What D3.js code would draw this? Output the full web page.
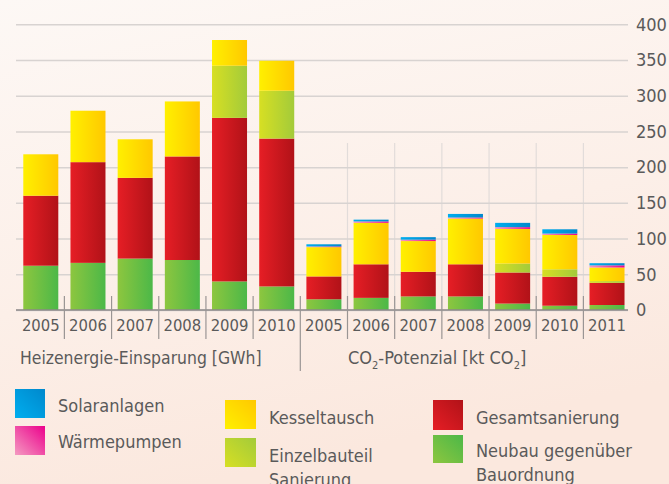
<!DOCTYPE html>
<html>
<head>
<meta charset="utf-8">
<script src="https://cdnjs.cloudflare.com/ajax/libs/d3/7.8.5/d3.min.js"></script>
<style>
  html, body { margin: 0; padding: 0; background: #fcefe8; }
  svg { display: block; }
  text { font-family: "DejaVu Sans Condensed", "DejaVu Sans", sans-serif; font-stretch: condensed; fill: #5a5a5a; }
</style>
</head>
<body>
<div class="viz"></div>
<script>
// years per group
const heatYears = ["2005", "2006", "2007", "2008", "2009", "2010"];
const co2Years = ["2005", "2006", "2007", "2008", "2009", "2010", "2011"];

// series, bottom to top
const seriesKeys = ["neubau", "gesamt", "einzel", "kessel", "waerme", "solar"];

// Heizenergie-Einsparung [GWh]
const neubauHeat = [62, 66, 72, 70, 40, 33];
const gesamtHeat = [98, 141, 113, 145, 229, 207];
const einzelHeat = [0, 0, 0, 0, 73, 67];
const kesselHeat = [58, 72, 54, 77, 36, 42];
const waermeHeat = [0, 0, 0, 0, 0, 0];
const solarHeat = [0, 0, 0, 0, 0, 0];

// CO2-Potenzial [kt CO2]
const neubauCo2 = [15, 17, 19, 19, 9, 6, 7];
const gesamtCo2 = [32, 47, 34.5, 45, 43.5, 40.5, 31];
const einzelCo2 = [0, 0, 0, 0, 12.5, 10.5, 2.5];
const kesselCo2 = [41, 58, 43, 64, 48.5, 48, 19];
const waermeCo2 = [1, 2, 2, 1.5, 2.5, 2, 3];
const solarCo2 = [3, 2.5, 3.5, 5, 6, 6, 3];

const yTicks = [0, 50, 100, 150, 200, 250, 300, 350, 400];

const width = 669, height = 484;

// colours: [left/light, right/dark]
const colors = {
    solar:  ["#00aeef", "#0088cc"],
    waerme: ["#f49ac1", "#ec008c"],
    kessel: ["#fff000", "#ffc800"],
    einzel: ["#d7df23", "#a3cb3a"],
    gesamt: ["#e61e25", "#b11218"],
    neubau: ["#8dc63f", "#4cb848"]
};

function rows(years, prefix, cols) {
    return years.map((yr, i) => {
        let r = { key: prefix + yr, year: yr };
        seriesKeys.forEach((k, j) => { r[k] = cols[j][i]; });
        return r;
    });
}

let data = rows(heatYears, "h", [neubauHeat, gesamtHeat, einzelHeat, kesselHeat, waermeHeat, solarHeat])
    .concat(rows(co2Years, "c", [neubauCo2, gesamtCo2, einzelCo2, kesselCo2, waermeCo2, solarCo2]));

var svg = d3.select('.viz').append('svg')
    .attr('width', width)
    .attr('height', height);

var defs = svg.append('defs');

var bg = defs.append('linearGradient').attr('id', 'bg')
    .attr('x1', 0).attr('y1', 0).attr('x2', 0.3).attr('y2', 1);
bg.append('stop').attr('offset', '0%').attr('stop-color', '#fdf8f5');
bg.append('stop').attr('offset', '60%').attr('stop-color', '#fcefe8');
bg.append('stop').attr('offset', '100%').attr('stop-color', '#fbe8de');

seriesKeys.forEach(k => {
    // horizontal gradient for bars
    let g1 = defs.append('linearGradient').attr('id', 'bar-' + k)
        .attr('x1', 0).attr('y1', 0).attr('x2', 1).attr('y2', 0);
    g1.append('stop').attr('offset', '0%').attr('stop-color', colors[k][0]);
    g1.append('stop').attr('offset', '100%').attr('stop-color', colors[k][1]);
    // diagonal gradient for legend swatches
    let g2 = defs.append('linearGradient').attr('id', 'sw-' + k)
        .attr('x1', 0).attr('y1', 1).attr('x2', 1).attr('y2', 0);
    g2.append('stop').attr('offset', '0%').attr('stop-color', colors[k][0]);
    g2.append('stop').attr('offset', '100%').attr('stop-color', colors[k][1]);
});

svg.append('rect')
    .attr('width', width).attr('height', height)
    .attr('fill', 'url(#bg)');

let x = d3.scaleBand()
    .domain(data.map(d => d.key))
    .range([17.2, 630.6])
    .paddingInner(0.258)
    .paddingOuter(0.129);

let y = d3.scaleLinear()
    .domain([0, 400])
    .range([310, 24.3]);

// faint vertical lines in the CO2 group
let step = x.step();
let dividers = data.slice(1).map(d => x(d.key) - step * x.paddingInner() / 2);

svg.append('g')
    .selectAll('line')
    .data(dividers.slice(6))
    .enter().append('line')
    .attr('x1', d => d).attr('x2', d => d)
    .attr('y1', 143).attr('y2', 310)
    .attr('stroke', '#e2dcda')
    .attr('stroke-width', 1.2);

// grid + right axis
let yAxis = svg.append('g')
    .attr('transform', 'translate(628,0)')
    .call(d3.axisRight(y).tickValues(yTicks).tickSize(-612).tickPadding(8));
yAxis.select('.domain').remove();
yAxis.selectAll('.tick line')
    .attr('stroke', '#d8d3d1')
    .attr('stroke-width', 1.5);
yAxis.selectAll('.tick text')
    .attr('font-size', 18)
    .attr('fill', '#555')
    .style('font-family', '"DejaVu Sans Condensed", "DejaVu Sans", sans-serif');

// stacked bars
let stack = d3.stack().keys(seriesKeys);
let layers = stack(data);

svg.append('g')
    .selectAll('g')
    .data(layers)
    .enter().append('g')
    .attr('fill', d => 'url(#bar-' + d.key + ')')
    .selectAll('rect')
    .data(d => d.filter(s => s[1] - s[0] > 0))
    .enter().append('rect')
    .attr('x', d => x(d.data.key))
    .attr('width', x.bandwidth())
    .attr('y', d => y(d[1]))
    .attr('height', d => y(d[0]) - y(d[1]));

// baseline
svg.append('line')
    .attr('x1', 16).attr('x2', 628)
    .attr('y1', 310).attr('y2', 310)
    .attr('stroke', '#8c8888')
    .attr('stroke-width', 1.5);

// category dividers below the axis
svg.append('g')
    .selectAll('line')
    .data(dividers)
    .enter().append('line')
    .attr('x1', d => d).attr('x2', d => d)
    .attr('y1', 296)
    .attr('y2', (d, i) => i === 5 ? 371 : 339)
    .attr('stroke', '#9a9594')
    .attr('stroke-width', 1.2);

// year labels
let xAxis = svg.append('g')
    .attr('transform', 'translate(0,310)')
    .call(d3.axisBottom(x).tickSize(0).tickPadding(9).tickFormat(k => k.slice(1)));
xAxis.select('.domain').remove();
xAxis.selectAll('.tick text')
    .attr('font-size', 16.5)
    .attr('fill', '#555')
    .style('font-family', '"DejaVu Sans Condensed", "DejaVu Sans", sans-serif');

// group labels
svg.append('text')
    .attr('x', 20).attr('y', 364)
    .attr('font-size', 17.4)
    .text('Heizenergie-Einsparung [GWh]');

let co2 = svg.append('text')
    .attr('x', 348).attr('y', 364)
    .attr('font-size', 18);
co2.append('tspan').text('CO');
co2.append('tspan').attr('font-size', 11).attr('dy', 5).text('2');
co2.append('tspan').attr('dy', -5).text('-Potenzial [kt CO');
co2.append('tspan').attr('font-size', 11).attr('dy', 5).text('2');
co2.append('tspan').attr('dy', -5).text(']');

// legend
const legend = [
    { key: 'solar', x: 15, y: 389, w: 30, h: 29, lines: ['Solaranlagen'], tx: 58, ty: 412 },
    { key: 'waerme', x: 15, y: 426, w: 30, h: 29, lines: ['Wärmepumpen'], tx: 58, ty: 448 },
    { key: 'kessel', x: 225, y: 400, w: 31, h: 29, lines: ['Kesseltausch'], tx: 269, ty: 424 },
    { key: 'einzel', x: 225, y: 438, w: 31, h: 29, lines: ['Einzelbauteil', 'Sanierung'], tx: 269, ty: 462 },
    { key: 'gesamt', x: 433, y: 400, w: 30, h: 30, lines: ['Gesamtsanierung'], tx: 476, ty: 424 },
    { key: 'neubau', x: 433, y: 435, w: 30, h: 28, lines: ['Neubau gegenüber', 'Bauordnung'], tx: 476, ty: 457 }
];

let lg = svg.append('g')
    .selectAll('g')
    .data(legend)
    .enter().append('g');

lg.append('rect')
    .attr('x', d => d.x).attr('y', d => d.y)
    .attr('width', d => d.w).attr('height', d => d.h)
    .attr('fill', d => 'url(#sw-' + d.key + ')');

lg.append('text')
    .attr('font-size', 18)
    .attr('y', d => d.ty)
    .selectAll('tspan')
    .data(d => d.lines.map((l, i) => ({ l: l, i: i, tx: d.tx })))
    .enter().append('tspan')
    .attr('x', d => d.tx)
    .attr('dy', d => d.i === 0 ? 0 : 23.5)
    .text(d => d.l);
</script>
</body>
</html>
